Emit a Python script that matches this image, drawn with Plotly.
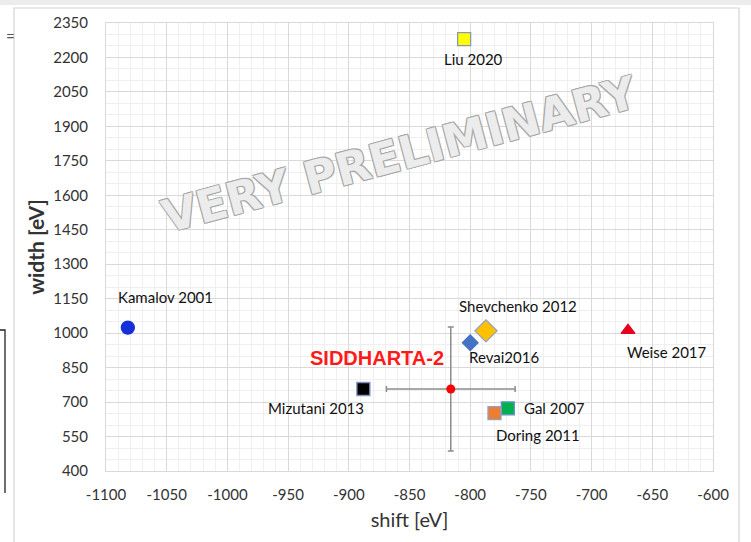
import plotly.graph_objects as go

# Kaonic hydrogen 1s shift / width: theory and experiment
names = ["Kamalov 2001", "Liu 2020", "Shevchenko 2012", "Revai2016", "Weise 2017",
         "Mizutani 2013", "Gal 2007", "Doring 2011"]
shift = [-1082, -805, -787, -800, -670, -888, -769, -780]
width = [1024, 2280, 1010, 958, 1012, 757, 673, 652]
symbols = ["circle", "square", "diamond", "diamond", "triangle-up", "square", "square", "square"]
colors = ["#1530d8", "#ffff00", "#ffc000", "#4472c4", "#e8001c", "#000000", "#00b050", "#ed7d31"]
sizes = [13, 13, 17, 12, 12, 13, 13, 13]
borders = ["#1530d8", "#8a97b5", "#8fa2c8", "#4472c4", "#e8001c", "#7f93bd", "#6f8fc4", "#8fa2c8"]

# label placement (px) relative to each point: left edge offset, downward offset
label_dx = [-12, -22, -29, -3, -3, -97, 14, 0]
label_dy = [-31, 20, -25, 14, 22, 19, 0, 22]

# SIDDHARTA-2 preliminary result
sid_shift = [-816]
sid_width = [757]
sid_err_shift = [53]
sid_err_width = [270]

x_ticks = list(range(-1100, -599, 50))
y_ticks = list(range(400, 2351, 150))

fig = go.Figure()

for i in range(len(names)):
    fig.add_trace(go.Scatter(
        x=[shift[i]], y=[width[i]], mode="markers",
        marker=dict(symbol=symbols[i], color=colors[i], size=sizes[i],
                    line=dict(color=borders[i], width=1.3)),
        showlegend=False, hoverinfo="skip"))

fig.add_trace(go.Scatter(
    x=sid_shift, y=sid_width, mode="markers",
    marker=dict(symbol="circle", color="#ff0000", size=9),
    error_x=dict(type="data", array=sid_err_shift, color="#8c8c8c", thickness=1.5, width=3),
    error_y=dict(type="data", array=sid_err_width, color="#8c8c8c", thickness=1.5, width=3),
    showlegend=False, hoverinfo="skip"))

annotations = []
for i in range(len(names)):
    annotations.append(dict(
        x=shift[i], y=width[i], xref="x", yref="y", text=names[i], showarrow=False,
        xanchor="left", xshift=label_dx[i], yshift=-label_dy[i],
        font=dict(family="Lato, sans-serif", size=15, color="#111111")))

annotations.append(dict(
    x=sid_shift[0], y=sid_width[0], xref="x", yref="y", text="<b>SIDDHARTA-2</b>",
    showarrow=False, xanchor="right", xshift=-5, yshift=31,
    font=dict(family="Liberation Sans, Arial, sans-serif", size=20, color="#ff1a1a")))

# plot-area pixel helpers for the page decorations
L, R, T, B = 106, 713, 23, 471


def px(xp):
    return (xp - L) / (R - L)


def py(yp):
    return (B - yp) / (B - T)


annotations.append(dict(
    x=px(400), y=py(63), xref="paper", yref="paper", text="<b>VERY PRELIMINARY</b>",
    showarrow=False, textangle=-15,
    font=dict(family="DejaVu Sans, sans-serif", size=45, color="#ececec",
              shadow="-1px -1px 0 #a6a6a6, 1px -1px 0 #a6a6a6, -1px 1px 0 #a6a6a6, 1px 1px 0 #a6a6a6")))

annotations.append(dict(
    x=px(4), y=py(25), xref="paper", yref="paper", text="=", showarrow=False,
    font=dict(family="Lato, sans-serif", size=15, color="#555555")))

shapes = [
    # light band along the top of the page
    dict(type="rect", xref="paper", yref="paper", x0=px(0), x1=px(751), y0=py(0), y1=py(5),
         fillcolor="#ececec", line=dict(width=0)),
    # frame around the chart object
    dict(type="rect", xref="paper", yref="paper", x0=px(14), x1=px(739), y0=py(8), y1=py(545),
         fillcolor="rgba(0,0,0,0)", line=dict(color="#d4d4d4", width=1.2)),
    # bracket at the left page edge
    dict(type="path", xref="paper", yref="paper",
         path=f"M {px(0)},{py(330)} L {px(5)},{py(330)} L {px(5)},{py(493)}",
         line=dict(color="#222222", width=1.3)),
]

fig.update_layout(
    width=751, height=542,
    margin=dict(l=L, r=751 - R, t=T, b=542 - B),
    paper_bgcolor="white", plot_bgcolor="white",
    annotations=annotations, shapes=shapes,
    xaxis=dict(
        range=[-1100, -600], tickvals=x_ticks, ticktext=[str(v) for v in x_ticks],
        showgrid=True, gridcolor="#d9d9d9", gridwidth=1,
        minor=dict(dtick=10, showgrid=True, gridcolor="#efefef", gridwidth=1),
        zeroline=False, showline=True, linecolor="#d9d9d9", mirror=True,
        ticks="", ticklabelstandoff=10,
        tickfont=dict(family="Lato, sans-serif", size=15, color="#333333"),
        title=dict(text="shift [eV]", standoff=10,
                   font=dict(family="Lato, sans-serif", size=20, color="#333333"))),
    yaxis=dict(
        range=[400, 2350], tickvals=y_ticks, ticktext=[str(v) for v in y_ticks],
        showgrid=True, gridcolor="#d9d9d9", gridwidth=1,
        minor=dict(dtick=50, showgrid=True, gridcolor="#efefef", gridwidth=1),
        zeroline=False, showline=True, linecolor="#d9d9d9", mirror=True,
        ticks="", ticklabelstandoff=14,
        tickfont=dict(family="Lato, sans-serif", size=15, color="#333333"),
        title=dict(text="<b>width [eV]</b>", standoff=2,
                   font=dict(family="Lato, sans-serif", size=21, color="#333333"))),
)

fig.write_html("out.html")
